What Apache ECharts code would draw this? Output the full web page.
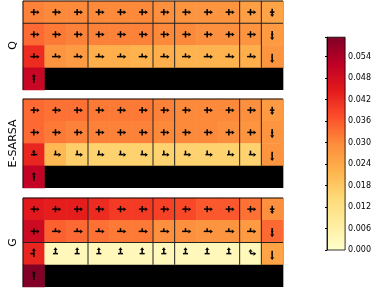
<!DOCTYPE html>
<html><head><meta charset="utf-8">
<script src="https://cdn.jsdelivr.net/npm/echarts@6/dist/echarts.min.js"></script>
<style>html,body{margin:0;padding:0;background:#fff}#c{width:374px;height:288px}</style>
</head><body><div id="c"></div>
<script>
// ---------- data ----------
const colsCat = ['0','1','2','3','4','5','6','7','8','9','10','11'];
const rowsCat = ['0','1','2','3'];
const panelNames = ['Q', 'E-SARSA', 'G'];

const valuesQ = [
  [0.031,0.030,0.030,0.030,0.030,0.030,0.029,0.028,0.028,0.028,0.026,0.025],
  [0.034,0.032,0.031,0.031,0.031,0.031,0.030,0.030,0.029,0.029,0.028,0.027],
  [0.042,0.028,0.027,0.023,0.023,0.022,0.023,0.022,0.022,0.022,0.023,0.028],
  [0.050]
];
const valuesE = [
  [0.034,0.033,0.033,0.032,0.032,0.032,0.031,0.030,0.030,0.030,0.029,0.027],
  [0.034,0.032,0.031,0.031,0.031,0.031,0.030,0.030,0.030,0.029,0.028,0.028],
  [0.043,0.021,0.017,0.016,0.016,0.016,0.016,0.016,0.016,0.016,0.016,0.028],
  [0.051]
];
const valuesG = [
  [0.045,0.044,0.044,0.042,0.040,0.040,0.039,0.038,0.036,0.036,0.033,0.029],
  [0.049,0.035,0.034,0.033,0.032,0.032,0.029,0.029,0.028,0.028,0.027,0.034],
  [0.043,0.003,0.003,0.003,0.003,0.003,0.003,0.003,0.003,0.003,0.003,0.025],
  [0.059]
];
const cliffCols = [1,2,3,4,5,6,7,8,9,10,11];
const cliffRow = 3;

// action weights per glyph code: [up, down, left, right]
const glyphs = {
  C: [0.28,0.28,0.28,0.5],
  V: [0.3,0.42,0.2,0.2],
  D: [0.3,0.5,0.1,0.1],
  d: [0.25,0.55,0.05,0],
  h: [0.28,0.05,0.3,0.5],
  k: [0.3,0.15,0.3,0.5],
  e: [0.35,0,0.15,0.5],
  a: [0.42,0.1,0.25,0.3],
  U: [0.55,0,0.22,0.22],
  u: [0.5,0.3,0.3,0.05],
  L: [0.4,0,0,0.5],
  S: [0.42,0.35,0.1,0.1]
};
const policyQ = ['CCCCCCCCCCCV','CCCCCCCCCCCD','khhhhhhhhhhd','S'];
const policyE = ['CCCCCCCCCCCV','CCCCCCCCCCCD','aeeeeeeeeeed','S'];
const policyG = ['CCCCCCCCCCCV','ChhhhhhhhhhD','uUUUUUUUUULd','S'];

const vDividers = [3,6,7,10,11];
const hDividers = [[1],[],[2]];

const cbTicks = [0,0.006,0.012,0.018,0.024,0.030,0.036,0.042,0.048,0.054];
const vMax = 0.0594;
const ylorrd = ['#ffffcc','#ffeda0','#fed976','#feb24c','#fd8d3c','#fc4e2a','#e31a1c','#bd0026','#800026'];

// ---------- build ----------
const allValues = [valuesQ, valuesE, valuesG];
const allPolicy = [policyQ, policyE, policyG];
const panelTops = [1, 99, 198];
const FONT = 'DejaVu Sans';

const grids = [], xAxes = [], yAxes = [], series = [];
panelNames.forEach((name, p) => {
  grids.push({left: 15, top: panelTops[p], width: 268, height: 89});
  xAxes.push({type:'category', data: colsCat, gridIndex: p, show: false});
  yAxes.push({type:'category', data: rowsCat, gridIndex: p, inverse: true,
    name: name, nameLocation: 'middle', nameGap: 4, nameRotate: 90,
    nameTextStyle: {fontFamily: FONT, fontSize: 11, color: '#000'},
    axisLine:{show:false}, axisTick:{show:false}, axisLabel:{show:false}, splitLine:{show:false}});
});
// heatmaps (series 0..2)
panelNames.forEach((name, p) => {
  const d = [];
  allValues[p].forEach((row, r) => row.forEach((v, c) => d.push([c, r, v])));
  series.push({type:'heatmap', xAxisIndex:p, yAxisIndex:p, data:d, z:2, emphasis:{disabled:true}});
});
// cliff block, divider lines & frame
panelNames.forEach((name, p) => {
  series.push({type:'custom', xAxisIndex:p, yAxisIndex:p, z:5, silent:true,
    data:[[0,0]],
    renderItem(params, api) {
      const cs = params.coordSys;
      const w = cs.width/12, h = cs.height/4;
      const ch = [];
      const c0 = Math.min(...cliffCols), c1 = Math.max(...cliffCols) + 1;
      ch.push({type:'rect', shape:{x: cs.x + c0*w, y: cs.y + cliffRow*h, width:(c1-c0)*w, height:h}, style:{fill:'#000'}});
      const ln = (x1,y1,x2,y2,col,lw) => ch.push({type:'line', shape:{x1,y1,x2,y2}, style:{stroke:col, lineWidth:lw}});
      vDividers.forEach(b => ln(cs.x + b*w, cs.y, cs.x + b*w, cs.y + 3*h, '#222', 1));
      hDividers[p].forEach(b => ln(cs.x, cs.y + b*h, cs.x + cs.width, cs.y + b*h, '#222', 1));
      ln(cs.x, cs.y, cs.x + cs.width, cs.y, '#111', 1);
      ln(cs.x, cs.y, cs.x, cs.y + cs.height, '#111', 1);
      ln(cs.x + cs.width + 0.5, cs.y, cs.x + cs.width + 0.5, cs.y + cs.height, '#aaa', 1);
      return {type:'group', children: ch};
    }});
});
// policy arrows
panelNames.forEach((name, p) => {
  const d = [];
  allPolicy[p].forEach((row, r) => row.split('').forEach((code, c) => d.push([c, r].concat(glyphs[code]))));
  series.push({type:'custom', xAxisIndex:p, yAxisIndex:p, z:6, silent:true, data:d,
    encode:{x:0, y:1},
    renderItem(params, api) {
      const ctr = api.coord([api.value(0), api.value(1)]);
      const dirs = [[0,-1],[0,1],[-1,0],[1,0]];
      const S = 11.5;
      const ch = [];
      dirs.forEach((dv, k) => {
        const pr = api.value(2+k);
        if (pr <= 0) return;
        const len = pr * S;
        const head = pr >= 0.4;
        const hl = head ? 2.8 : 0;
        const hw = 2.0;
        const sx = ctr[0] + dv[0]*(len-hl), sy = ctr[1] + dv[1]*(len-hl);
        ch.push({type:'line', shape:{x1:ctr[0], y1:ctr[1], x2:sx, y2:sy}, style:{stroke:'#000', lineWidth:1.5}});
        if (head) {
          const tx = ctr[0] + dv[0]*len, ty = ctr[1] + dv[1]*len;
          const px = -dv[1], py = dv[0];
          ch.push({type:'polygon', shape:{points:[[tx,ty],[sx+px*hw, sy+py*hw],[sx-px*hw, sy-py*hw]]}, style:{fill:'#000'}});
        }
      });
      return {type:'group', children: ch};
    }});
});

// colorbar grid
grids.push({left: 327, top: 37.2, width: 20, height: 212.8, show: true,
  borderColor: '#000', borderWidth: 0.8,
  backgroundColor: {type:'linear', x:0, y:0, x2:0, y2:1,
    colorStops: ylorrd.slice().reverse().map((c, i) => ({offset: i/(ylorrd.length-1), color: c}))}});
xAxes.push({type:'value', gridIndex:3, show:false, min:0, max:1});
yAxes.push({type:'value', gridIndex:3, position:'right', min:0, max:vMax, interval:0.006,
  axisLine:{show:true, lineStyle:{color:'#000', width:0.8}},
  axisTick:{show:true, inside:true, length:2, lineStyle:{color:'#000'}},
  splitLine:{show:false},
  axisLabel:{margin:3, fontFamily:FONT, fontSize:8, color:'#000',
    formatter: v => cbTicks.some(t => Math.abs(t - v) < 1e-9) ? v.toFixed(3) : ''},
  showMaxLabel:false});

const chart = echarts.init(document.getElementById('c'), null, {renderer:'canvas'});
chart.setOption({
  animation:false,
  grid: grids, xAxis: xAxes, yAxis: yAxes,
  visualMap: {show:false, type:'continuous', min:0, max:vMax, seriesIndex:[0,1,2], inRange:{color: ylorrd}},
  series: series
});
</script></body></html>
